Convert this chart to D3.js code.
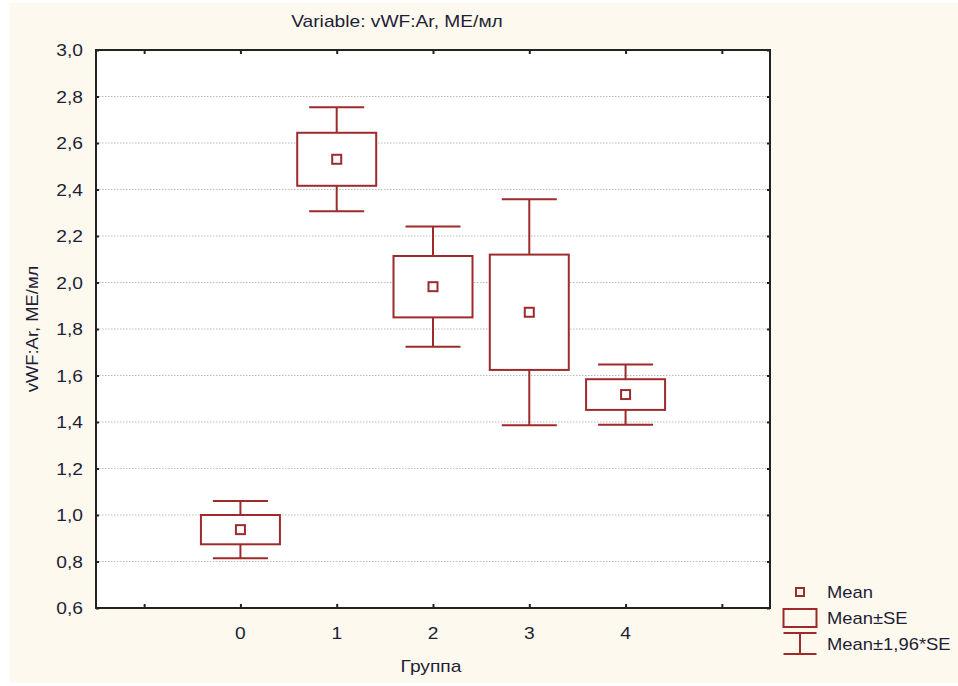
<!DOCTYPE html>
<html>
<head>
<meta charset="utf-8">
<script src="https://cdn.jsdelivr.net/npm/d3@7"></script>
<style>
  body { margin: 0; background: #fff; }
  text { font-family: "Liberation Sans", Arial, sans-serif; fill: #1e1e36; font-size: 16px; }
</style>
</head>
<body>
<svg id="chart" width="958" height="686"></svg>
<script>
// groups on x axis
var groups = [0, 1, 2, 3, 4];
// mean of vWF:Ar per group
var means = [0.937, 2.530, 1.982, 1.872, 1.518];
// standard error per group
var se = [0.063, 0.114, 0.132, 0.248, 0.066];
var yTicks = [0.6, 0.8, 1.0, 1.2, 1.4, 1.6, 1.8, 2.0, 2.2, 2.4, 2.6, 2.8, 3.0];
var xTicks = [-1, 0, 1, 2, 3, 4, 5];
var legendLabels = ["Mean", "Mean\u00b1SE", "Mean\u00b11,96*SE"];

var svg = d3.select("svg"),
    width = +svg.attr("width"),
    height = +svg.attr("height");

var red = "#9e2a2b";
var margin = {left: 96, top: 50, right: 770, bottom: 608};
var sx = 1.2; // text in the source is drawn wider than arial

function place(px, py) { return "translate(" + px + "," + py + ") scale(" + sx + ",1)"; }

svg.append("rect")
    .attr("x", 10).attr("y", 3)
    .attr("width", width - 10).attr("height", 680)
    .attr("fill", "#fdf9ee");

var x = d3.scaleLinear().domain([-1.5, 5.5]).range([margin.left, margin.right]);
var y = d3.scaleLinear().domain([0.6, 3.0]).range([margin.bottom, margin.top]);
var fmt = function(d) { return d3.format(".1f")(d).replace(".", ","); };

svg.append("rect")
    .attr("x", margin.left).attr("y", margin.top)
    .attr("width", margin.right - margin.left)
    .attr("height", margin.bottom - margin.top)
    .attr("fill", "#fff");

// grid
svg.append("g")
    .selectAll("line")
    .data(yTicks.slice(1, -1))
    .enter().append("line")
      .attr("x1", margin.left).attr("x2", margin.right)
      .attr("y1", function(d) { return y(d); })
      .attr("y2", function(d) { return y(d); })
      .attr("stroke", "#bcbcbc")
      .attr("stroke-dasharray", "1.5,1.5");

// axes (inward ticks)
var yAxisL = svg.append("g")
    .attr("transform", "translate(" + margin.left + ",0)")
    .call(d3.axisRight(y).tickValues(yTicks).tickSize(3).tickFormat(""));
var yAxisR = svg.append("g")
    .attr("transform", "translate(" + margin.right + ",0)")
    .call(d3.axisLeft(y).tickValues(yTicks).tickSize(3).tickFormat(""));
var xAxisB = svg.append("g")
    .attr("transform", "translate(0," + margin.bottom + ")")
    .call(d3.axisTop(x).tickValues(xTicks).tickSize(4).tickFormat(""));
var xAxisT = svg.append("g")
    .attr("transform", "translate(0," + margin.top + ")")
    .call(d3.axisBottom(x).tickValues(xTicks).tickSize(4).tickFormat(""));
[yAxisL, yAxisR, xAxisB, xAxisT].forEach(function(a) {
  a.select(".domain").remove();
  a.selectAll("line").attr("stroke", "#222").attr("stroke-width", 2);
});

svg.append("rect")
    .attr("x", margin.left).attr("y", margin.top)
    .attr("width", margin.right - margin.left)
    .attr("height", margin.bottom - margin.top)
    .attr("fill", "none")
    .attr("stroke", "#222")
    .attr("stroke-width", 2);

// tick labels
svg.append("g")
    .selectAll("text")
    .data(yTicks)
    .enter().append("text")
      .attr("transform", function(d) { return place(83, y(d) + 6); })
      .attr("text-anchor", "end")
      .text(fmt);

svg.append("g")
    .selectAll("text")
    .data(groups)
    .enter().append("text")
      .attr("transform", function(d) { return place(x(d), 639); })
      .attr("text-anchor", "middle")
      .text(function(d) { return d; });

// boxes
var g = svg.append("g")
    .selectAll("g")
    .data(groups)
    .enter().append("g");

var boxW = 79, capW = 55, mk = 9;

g.append("line")
    .attr("x1", function(d) { return x(d); })
    .attr("x2", function(d) { return x(d); })
    .attr("y1", function(d, i) { return y(means[i] + 1.96 * se[i]); })
    .attr("y2", function(d, i) { return y(means[i] - 1.96 * se[i]); });
g.append("line")
    .attr("x1", function(d) { return x(d) - capW / 2; })
    .attr("x2", function(d) { return x(d) + capW / 2; })
    .attr("y1", function(d, i) { return y(means[i] + 1.96 * se[i]); })
    .attr("y2", function(d, i) { return y(means[i] + 1.96 * se[i]); });
g.append("line")
    .attr("x1", function(d) { return x(d) - capW / 2; })
    .attr("x2", function(d) { return x(d) + capW / 2; })
    .attr("y1", function(d, i) { return y(means[i] - 1.96 * se[i]); })
    .attr("y2", function(d, i) { return y(means[i] - 1.96 * se[i]); });
g.append("rect")
    .attr("x", function(d) { return x(d) - boxW / 2; })
    .attr("y", function(d, i) { return y(means[i] + se[i]); })
    .attr("width", boxW)
    .attr("height", function(d, i) { return y(means[i] - se[i]) - y(means[i] + se[i]); })
    .attr("fill", "#fff");
g.append("rect")
    .attr("x", function(d) { return x(d) - mk / 2; })
    .attr("y", function(d, i) { return y(means[i]) - mk / 2; })
    .attr("width", mk).attr("height", mk)
    .attr("fill", "#fff");
g.selectAll("line, rect").attr("stroke", red).attr("stroke-width", 2);

// titles
svg.append("text")
    .attr("transform", place(397, 27))
    .attr("text-anchor", "middle")
    .text("Variable: vWF:Ar, МЕ/мл");

svg.append("text")
    .attr("transform", "translate(38,329) rotate(-90) scale(1.15,1)")
    .attr("text-anchor", "middle")
    .text("vWF:Ar, МЕ/мл");

svg.append("text")
    .attr("transform", place(431, 672))
    .attr("text-anchor", "middle")
    .text("Группа");

// legend
var lg = svg.append("g").attr("transform", "translate(800,0)");
lg.append("rect").attr("x", -4).attr("y", 588).attr("width", 8).attr("height", 8);
lg.append("rect").attr("x", -16.5).attr("y", 609).attr("width", 33).attr("height", 18);
lg.append("line").attr("x1", -16.5).attr("x2", 16.5).attr("y1", 633).attr("y2", 633);
lg.append("line").attr("x1", -16.5).attr("x2", 16.5).attr("y1", 654).attr("y2", 654);
lg.append("line").attr("x1", 0).attr("x2", 0).attr("y1", 633).attr("y2", 654);
lg.selectAll("rect, line").attr("fill", "none").attr("stroke", red).attr("stroke-width", 2);

lg.selectAll("text")
    .data(legendLabels)
    .enter().append("text")
      .attr("transform", function(d, i) { return "translate(27," + (598 + i * 26) + ") scale(1.15,1)"; })
      .text(function(d) { return d; });
</script>
</body>
</html>
